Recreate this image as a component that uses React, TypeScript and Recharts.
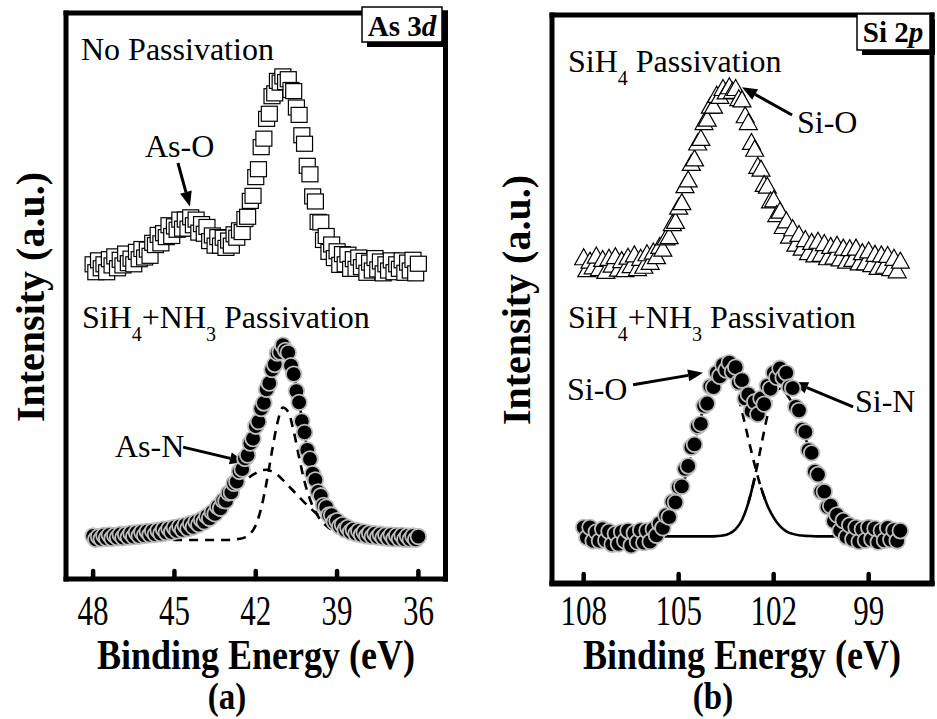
import { ComposedChart, Scatter, Line, XAxis, YAxis, ReferenceLine } from "recharts";

// ---- As 3d panel -------------------------------------------------------
const asEnergy = [
  48.0, 47.9, 47.8, 47.7, 47.6, 47.5, 47.4, 47.3, 47.2, 47.1,
  47.0, 46.9, 46.8, 46.7, 46.6, 46.5, 46.4, 46.3, 46.2, 46.1,
  46.0, 45.9, 45.8, 45.7, 45.6, 45.5, 45.4, 45.3, 45.2, 45.1,
  45.0, 44.9, 44.8, 44.7, 44.6, 44.5, 44.4, 44.3, 44.2, 44.1,
  44.0, 43.9, 43.8, 43.7, 43.6, 43.5, 43.4, 43.3, 43.2, 43.1,
  43.0, 42.9, 42.8, 42.7, 42.6, 42.5, 42.4, 42.3, 42.2, 42.1,
  42.0, 41.9, 41.8, 41.7, 41.6, 41.5, 41.4, 41.3, 41.2, 41.1,
  41.0, 40.9, 40.8, 40.7, 40.6, 40.5, 40.4, 40.3, 40.2, 40.1,
  40.0, 39.9, 39.8, 39.7, 39.6, 39.5, 39.4, 39.3, 39.2, 39.1,
  39.0, 38.9, 38.8, 38.7, 38.6, 38.5, 38.4, 38.3, 38.2, 38.1,
  38.0, 37.9, 37.8, 37.7, 37.6, 37.5, 37.4, 37.3, 37.2, 37.1,
  37.0, 36.9, 36.8, 36.7, 36.6, 36.5, 36.4, 36.3, 36.2, 36.1,
  36.0,
];

// no passivation (offset trace)
const asNoPassivation = [
  55.6, 54.2, 56.3, 54.9, 55.6, 54.2, 56.5, 55.4, 57.0, 54.9,
  56.4, 55.4, 57.5, 55.8, 56.6, 55.6, 57.8, 56.5, 58.3, 56.8,
  58.2, 57.1, 59.4, 59.0, 60.8, 59.3, 61.1, 60.4, 62.5, 60.6,
  62.3, 61.7, 63.5, 61.9, 63.5, 61.9, 63.9, 62.5, 63.5, 61.2,
  62.7, 61.0, 62.2, 59.7, 60.7, 58.9, 60.4, 58.9, 60.3, 58.5,
  59.8, 58.9, 60.9, 60.3, 61.6, 61.3, 63.6, 64.0, 66.8, 67.7,
  71.0, 72.4, 76.3, 77.8, 81.3, 82.2, 85.3, 85.8, 88.0, 87.7,
  88.8, 87.8, 88.3, 86.4, 86.2, 83.3, 82.0, 78.4, 76.9, 73.0,
  71.5, 67.6, 66.7, 63.1, 63.0, 59.9, 60.6, 57.8, 59.1, 56.7,
  57.9, 55.5, 57.4, 55.6, 57.3, 54.8, 56.5, 54.8, 56.8, 55.1,
  56.2, 54.1, 55.9, 54.5, 56.7, 54.7, 56.1, 54.0, 55.6, 54.5,
  56.3, 54.2, 55.6, 54.8, 56.3, 54.1, 55.9, 54.5, 56.4, 54.0,
  55.7,
];

// SiH4 + NH3 passivation
const asNitrided = [
  7.6, 7.0, 7.5, 7.1, 7.7, 7.2, 7.8, 7.2, 7.7, 7.3,
  7.9, 7.3, 7.9, 7.4, 8.1, 7.5, 8.2, 7.6, 8.3, 7.7,
  8.4, 7.8, 8.5, 7.9, 8.6, 8.0, 8.8, 8.2, 8.9, 8.3,
  9.1, 8.5, 9.3, 8.7, 9.5, 8.9, 9.8, 9.2, 10.1, 9.6,
  10.5, 10.1, 11.1, 10.7, 11.8, 11.5, 12.8, 12.5, 13.9, 13.8,
  15.2, 15.3, 16.9, 17.2, 19.0, 19.4, 21.3, 21.9, 24.0, 24.8,
  27.0, 27.8, 30.1, 31.1, 33.5, 34.6, 37.0, 37.9, 39.9, 40.1,
  41.3, 40.4, 40.0, 37.7, 36.2, 33.2, 31.2, 27.9, 25.9, 22.8,
  21.2, 18.6, 17.5, 15.4, 14.7, 13.0, 12.7, 11.3, 11.3, 10.1,
  10.3, 9.3, 9.6, 8.7, 9.1, 8.3, 8.7, 8.0, 8.5, 7.8,
  8.3, 7.6, 8.1, 7.5, 8.0, 7.4, 7.9, 7.3, 7.8, 7.2,
  7.8, 7.1, 7.7, 7.1, 7.7, 7.0, 7.6, 7.0, 7.6, 7.0,
  7.5,
];

const asFitEnergy = [
  48.0, 47.8, 47.6, 47.4, 47.2, 47.0, 46.8, 46.6, 46.4, 46.2,
  46.0, 45.8, 45.6, 45.4, 45.2, 45.0, 44.8, 44.6, 44.4, 44.2,
  44.0, 43.8, 43.6, 43.4, 43.2, 43.0, 42.8, 42.6, 42.4, 42.2,
  42.0, 41.8, 41.6, 41.4, 41.2, 41.0, 40.8, 40.6, 40.4, 40.2,
  40.0, 39.8, 39.6, 39.4, 39.2, 39.0, 38.8, 38.6, 38.4, 38.2,
  38.0, 37.8, 37.6, 37.4, 37.2, 37.0, 36.8, 36.6, 36.4, 36.2,
  36.0,
];

const asFitTotal = [
  7.15, 7.15, 7.15, 7.2, 7.25, 7.25, 7.3, 7.35, 7.45, 7.5,
  7.6, 7.7, 7.85, 8.0, 8.2, 8.4, 8.7, 9.0, 9.4, 9.8,
  10.3, 10.9, 11.6, 12.4, 13.4, 14.6, 16.0, 17.8, 20.0, 22.6,
  25.6, 28.9, 32.4, 35.9, 38.8, 40.5, 40.2, 36.6, 31.2, 25.6,
  20.6, 16.6, 13.7, 11.6, 10.2, 9.5, 9.1, 8.75, 8.5, 8.25,
  8.05, 7.9, 7.8, 7.65, 7.55, 7.45, 7.4, 7.35, 7.3, 7.25,
  7.2,
];

// As-Ga component
const asFitBulk = [
  6.9, 6.9, 6.9, 6.9, 6.9, 6.9, 6.9, 6.9, 6.9, 6.9,
  6.9, 6.9, 6.9, 6.9, 6.9, 6.9, 6.9, 6.9, 6.9, 6.9,
  6.9, 6.9, 6.9, 6.9, 6.9, 6.9, 7.0, 7.1, 7.35, 8.0,
  9.5, 12.5, 17.1, 22.6, 27.6, 30.3, 29.5, 26.1, 21.5, 17.2,
  14.1, 11.9, 10.4, 9.4, 8.7, 8.2, 7.85, 7.6, 7.4, 7.3,
  7.2, 7.1, 7.05, 7.0, 6.95, 6.9, 6.9, 6.9, 6.9, 6.9,
  6.9,
];

// As-N component
const asFitNitride = [
  7.1, 7.1, 7.1, 7.15, 7.2, 7.2, 7.25, 7.3, 7.4, 7.45,
  7.5, 7.6, 7.75, 7.9, 8.05, 8.25, 8.5, 8.8, 9.2, 9.6,
  10.15, 10.75, 11.5, 12.3, 13.25, 14.2, 15.25, 16.25, 17.2, 18.1,
  18.7, 19.2, 19.3, 19.0, 18.4, 17.5, 16.5, 15.5, 14.5, 13.5,
  12.6, 11.7, 11.0, 10.35, 9.8, 9.35, 8.95, 8.65, 8.4, 8.15,
  7.95, 7.8, 7.7, 7.55, 7.5, 7.4, 7.35, 7.3, 7.25, 7.2,
  7.15,
];

// ---- Si 2p panel -------------------------------------------------------
const siEnergy = [
  108.0, 107.9, 107.8, 107.7, 107.6, 107.5, 107.4, 107.3, 107.2, 107.1,
  107.0, 106.9, 106.8, 106.7, 106.6, 106.5, 106.4, 106.3, 106.2, 106.1,
  106.0, 105.9, 105.8, 105.7, 105.6, 105.5, 105.4, 105.3, 105.2, 105.1,
  105.0, 104.9, 104.8, 104.7, 104.6, 104.5, 104.4, 104.3, 104.2, 104.1,
  104.0, 103.9, 103.8, 103.7, 103.6, 103.5, 103.4, 103.3, 103.2, 103.1,
  103.0, 102.9, 102.8, 102.7, 102.6, 102.5, 102.4, 102.3, 102.2, 102.1,
  102.0, 101.9, 101.8, 101.7, 101.6, 101.5, 101.4, 101.3, 101.2, 101.1,
  101.0, 100.9, 100.8, 100.7, 100.6, 100.5, 100.4, 100.3, 100.2, 100.1,
  100.0, 99.9, 99.8, 99.7, 99.6, 99.5, 99.4, 99.3, 99.2, 99.1,
  99.0, 98.9, 98.8, 98.7, 98.6, 98.5, 98.4, 98.3, 98.2, 98.1,
  98.0,
];

// SiH4 passivation (offset trace)
const siSilane = [
  57.0, 54.9, 56.4, 55.4, 57.3, 55.1, 56.7, 54.6, 56.9, 55.7,
  57.2, 55.0, 56.5, 54.9, 57.1, 55.6, 57.5, 55.1, 56.9, 55.5,
  57.7, 56.2, 58.0, 57.2, 59.0, 58.5, 60.5, 60.7, 63.0, 63.4,
  65.9, 66.7, 69.7, 70.7, 73.6, 74.4, 77.2, 78.0, 80.8, 81.4,
  83.7, 83.7, 85.6, 85.4, 86.8, 86.2, 87.1, 86.3, 86.8, 85.0,
  84.8, 82.0, 80.8, 77.3, 76.1, 73.1, 72.6, 69.9, 69.6, 67.0,
  67.2, 64.6, 65.2, 62.5, 63.5, 60.8, 62.1, 59.4, 61.1, 58.7,
  60.2, 57.9, 59.7, 57.5, 59.9, 57.6, 59.5, 57.0, 59.0, 57.1,
  59.2, 56.8, 58.7, 56.4, 58.6, 56.7, 58.7, 56.1, 57.9, 56.1,
  58.2, 55.8, 57.6, 55.3, 57.5, 55.5, 57.4, 55.1, 56.9, 54.7,
  56.4,
];

// SiH4 + NH3 passivation
const siNitrided = [
  9.8, 8.0, 9.8, 7.4, 9.0, 7.4, 9.5, 7.5, 9.1, 6.8,
  8.7, 6.9, 9.0, 7.4, 9.2, 6.6, 8.8, 7.2, 9.3, 7.1,
  9.2, 7.3, 9.5, 8.4, 10.5, 9.7, 11.9, 11.6, 14.3, 14.2,
  16.9, 17.0, 20.1, 20.6, 23.9, 24.4, 27.6, 28.0, 31.2, 31.6,
  34.6, 34.5, 37.0, 36.4, 38.4, 37.5, 38.8, 37.2, 38.0, 35.3,
  35.7, 32.5, 33.2, 30.3, 31.9, 29.7, 32.5, 31.5, 34.7, 34.2,
  37.0, 36.2, 37.8, 36.2, 37.0, 34.5, 34.3, 31.0, 30.4, 27.0,
  26.6, 23.4, 22.9, 19.6, 19.1, 16.1, 16.1, 13.4, 13.6, 10.9,
  12.0, 9.2, 11.0, 8.1, 10.2, 7.7, 9.8, 7.3, 9.5, 7.5,
  9.8, 7.7, 9.6, 7.2, 9.2, 7.5, 9.7, 7.6, 9.3, 7.4,
  9.2,
];

const siFitEnergy = [
  108.0, 107.8, 107.6, 107.4, 107.2, 107.0, 106.8, 106.6, 106.4, 106.2,
  106.0, 105.8, 105.6, 105.4, 105.2, 105.0, 104.8, 104.6, 104.4, 104.2,
  104.0, 103.8, 103.6, 103.4, 103.2, 103.0, 102.8, 102.6, 102.4, 102.2,
  102.0, 101.8, 101.6, 101.4, 101.2, 101.0, 100.8, 100.6, 100.4, 100.2,
  100.0, 99.8, 99.6, 99.4, 99.2, 99.0, 98.8, 98.6, 98.4, 98.2,
  98.0,
];

// Si-O component
const siFitOxide = [
  8.2, 8.2, 8.2, 8.2, 8.2, 8.2, 8.2, 8.2, 8.3, 8.4,
  8.6, 9.0, 9.7, 10.9, 12.7, 15.2, 18.5, 22.5, 26.8, 31.2,
  34.8, 37.3, 38.2, 37.2, 34.3, 30.2, 25.4, 20.8, 16.8, 13.7,
  11.5, 10.0, 9.1, 8.65, 8.4, 8.3, 8.25, 8.2, 8.2, 8.2,
  8.2, 8.2, 8.2, 8.2, 8.2, 8.2, 8.2, 8.2, 8.2, 8.2,
  8.2,
];

// Si-N component
const siFitNitride = [
  8.2, 8.2, 8.2, 8.2, 8.2, 8.2, 8.2, 8.2, 8.2, 8.2,
  8.2, 8.2, 8.2, 8.2, 8.2, 8.2, 8.2, 8.2, 8.2, 8.2,
  8.2, 8.25, 8.35, 8.7, 9.5, 11.1, 14.1, 18.5, 24.0, 29.4,
  33.2, 34.2, 33.3, 31.5, 28.8, 25.6, 22.3, 19.1, 16.3, 14.0,
  12.1, 10.7, 9.8, 9.1, 8.7, 8.5, 8.35, 8.27, 8.23, 8.2,
  8.2,
];

// ---- axes ---------------------------------------------------------------
const asTicks = [48, 45, 42, 39, 36];
const siTicks = [108, 105, 102, 99];
const siMinorTicks = [106.5, 103.5, 100.5, 97.5];
const intensityTicks = [
  2, 5, 8, 11, 14, 17, 20, 23, 26, 29, 32, 35, 38, 41, 44, 47, 50,
  53, 56, 59, 62, 65, 68, 71, 74, 77, 80, 83, 86, 89, 92, 95, 98,
];

// arrow annotations, in (binding energy, intensity)
const asArrows = [
  { from: { x: 44.87, y: 73.5 }, to: { x: 44.43, y: 65.8 } },
  { from: { x: 44.68, y: 23.3 }, to: { x: 42.4, y: 20.7 } },
];
const siArrows = [
  { from: { x: 101.42, y: 82.4 }, to: { x: 103.0, y: 87.3 } },
  { from: { x: 106.44, y: 34.9 }, to: { x: 104.23, y: 37.0 } },
  { from: { x: 99.49, y: 31.0 }, to: { x: 101.39, y: 35.4 } },
];

const SERIF = '"Liberation Serif", "Times New Roman", serif';

const toPoints = (xs: number[], ys: (number | null)[]) => xs.map((e, i) => ({ e, v: ys[i] }));

// the Si 2p components are dashed where they rise above the overlap level
const splitAtLevel = (xs: number[], ys: number[], level: number) => {
  const hi = ys.map((v, i) => v > level || ys[i - 1] > level || ys[i + 1] > level);
  const lo = ys.map((v, i) => v <= level || ys[i - 1] <= level || ys[i + 1] <= level);
  return {
    dashed: toPoints(xs, ys.map((v, i) => (hi[i] ? v : null))),
    solid: toPoints(xs, ys.map((v, i) => (lo[i] ? v : null))),
  };
};

const OpenSquare = (p: any) => (
  <rect x={p.cx - 8} y={p.cy - 7.5} width={16} height={15} fill="#fff" stroke="#000" strokeWidth={1.2} />
);
const FilledCircle = (p: any) => (
  <circle cx={p.cx} cy={p.cy} r={7.8} fill="#000" stroke="#bdbdbd" strokeWidth={1.8} />
);
const OpenTriangle = (p: any) => (
  <polygon
    points={`${p.cx},${p.cy - 10.5} ${p.cx + 9},${p.cy + 5.5} ${p.cx - 9},${p.cy + 5.5}`}
    fill="#fff"
    stroke="#000"
    strokeWidth={1.2}
  />
);

const Arrow = (p: any) => {
  const { x1, y1, x2, y2 } = p;
  const a = Math.atan2(y2 - y1, x2 - x1);
  const len = 15;
  const half = 6;
  const bx = x2 - len * Math.cos(a);
  const by = y2 - len * Math.sin(a);
  const nx = -Math.sin(a) * half;
  const ny = Math.cos(a) * half;
  return (
    <g>
      <line x1={x1} y1={y1} x2={bx} y2={by} stroke="#000" strokeWidth={3} />
      <polygon points={`${x2},${y2} ${bx + nx},${by + ny} ${bx - nx},${by - ny}`} fill="#000" />
    </g>
  );
};

// tall, narrow tick numerals; y arrives as the baseline (tickMargin is set for that)
const EnergyTick = ({ x, y, payload }: any) => (
  <g transform={`translate(${x},${y}) scale(1,1.36)`}>
    <text textAnchor="middle" fontFamily={SERIF} fontSize={31} fill="#000">
      {payload.value}
    </text>
  </g>
);

const frameLine = { stroke: "#000", strokeWidth: 5, strokeLinecap: "square" as const };
const majorTick = { stroke: "#000", strokeWidth: 4.5, strokeLinecap: "round" as const };
const smallTick = { stroke: "#000", strokeWidth: 2.5, strokeLinecap: "round" as const };

// axes get a 1px band each; margins make up the rest so the frames land where they should
const AsPanel = () => {
  const top = toPoints(asEnergy, asNoPassivation);
  const bottom = toPoints(asEnergy, asNitrided);
  return (
    <ComposedChart width={475} height={719} margin={{ top: 12, right: 28.5, bottom: 139, left: 65 }}>
      <XAxis
        xAxisId="b" dataKey="e" type="number" domain={[35, 49]} reversed allowDataOverflow
        ticks={asTicks} interval={0} height={1} tickSize={-8} tickMargin={54}
        axisLine={frameLine} tickLine={majorTick} tick={EnergyTick} stroke="#000"
      />
      <XAxis
        xAxisId="t" orientation="top" type="number" domain={[35, 49]} reversed allowDataOverflow
        ticks={asTicks} interval={0} height={1} tickSize={-8} tick={false}
        axisLine={frameLine} tickLine={majorTick} stroke="#000"
      />
      <YAxis
        yAxisId="l" dataKey="v" type="number" domain={[0, 100]} allowDataOverflow
        ticks={intensityTicks} interval={0} width={1} tickSize={-4} tick={false}
        axisLine={frameLine} tickLine={smallTick} stroke="#000"
      />
      <YAxis
        yAxisId="r" orientation="right" type="number" domain={[0, 100]} allowDataOverflow
        ticks={intensityTicks} interval={0} width={1} tickSize={3} tick={false}
        axisLine={frameLine} tickLine={smallTick} stroke="#000"
      />
      <Line
        data={toPoints(asFitEnergy, asFitBulk)} dataKey="v" xAxisId="b" yAxisId="l" type="monotone"
        stroke="#000" strokeWidth={2.6} strokeDasharray="9 7" dot={false} isAnimationActive={false}
      />
      <Line
        data={toPoints(asFitEnergy, asFitNitride)} dataKey="v" xAxisId="b" yAxisId="l" type="monotone"
        stroke="#000" strokeWidth={2.6} strokeDasharray="9 7" dot={false} isAnimationActive={false}
      />
      <Line
        data={toPoints(asFitEnergy, asFitTotal)} dataKey="v" xAxisId="b" yAxisId="l" type="monotone"
        stroke="#000" strokeWidth={2.6} dot={false} isAnimationActive={false}
      />
      <Scatter data={top} dataKey="v" xAxisId="b" yAxisId="l" shape={OpenSquare} isAnimationActive={false} />
      <Scatter data={bottom} dataKey="v" xAxisId="b" yAxisId="l" shape={FilledCircle} isAnimationActive={false} />
      {asArrows.map((a, i) => (
        <ReferenceLine
          key={i} xAxisId="b" yAxisId="l" segment={[a.from, a.to]} ifOverflow="visible" shape={Arrow}
        />
      ))}
    </ComposedChart>
  );
};

const SiPanel = () => {
  const top = toPoints(siEnergy, siSilane);
  const bottom = toPoints(siEnergy, siNitrided);
  const oxide = splitAtLevel(siFitEnergy, siFitOxide, 16);
  const nitride = splitAtLevel(siFitEnergy, siFitNitride, 16);
  const lineProps = {
    dataKey: "v", xAxisId: "b", yAxisId: "l", type: "monotone" as const, stroke: "#000",
    strokeWidth: 2.6, dot: false, isAnimationActive: false,
  };
  return (
    <ComposedChart width={462} height={719} margin={{ top: 14, right: 4, bottom: 134, left: 76 }}>
      <XAxis
        xAxisId="b" dataKey="e" type="number" domain={[97, 109]} reversed allowDataOverflow
        ticks={siTicks} interval={0} height={1} tickSize={-9} tickMargin={51}
        axisLine={frameLine} tickLine={majorTick} tick={EnergyTick} stroke="#000"
      />
      <XAxis
        xAxisId="m" type="number" domain={[97, 109]} reversed allowDataOverflow
        ticks={siMinorTicks} interval={0} height={1} tickSize={-5} tick={false}
        axisLine={frameLine} tickLine={majorTick} stroke="#000"
      />
      <XAxis
        xAxisId="t" orientation="top" type="number" domain={[97, 109]} reversed allowDataOverflow
        ticks={[...siTicks, ...siMinorTicks]} interval={0} height={1} tickSize={-6} tick={false}
        axisLine={frameLine} tickLine={majorTick} stroke="#000"
      />
      <YAxis
        yAxisId="l" dataKey="v" type="number" domain={[0, 100]} allowDataOverflow
        ticks={intensityTicks} interval={0} width={1} tickSize={-4} tick={false}
        axisLine={frameLine} tickLine={smallTick} stroke="#000"
      />
      <YAxis
        yAxisId="r" orientation="right" type="number" domain={[0, 100]} allowDataOverflow
        ticks={intensityTicks} interval={0} width={1} tickSize={3} tick={false}
        axisLine={frameLine} tickLine={smallTick} stroke="#000"
      />
      <Line {...lineProps} data={oxide.dashed} strokeDasharray="9 7" />
      <Line {...lineProps} data={oxide.solid} />
      <Line {...lineProps} data={nitride.dashed} strokeDasharray="9 7" />
      <Line {...lineProps} data={nitride.solid} />
      <Scatter data={top} dataKey="v" xAxisId="b" yAxisId="l" shape={OpenTriangle} isAnimationActive={false} />
      <Scatter data={bottom} dataKey="v" xAxisId="b" yAxisId="l" shape={FilledCircle} isAnimationActive={false} />
      {siArrows.map((a, i) => (
        <ReferenceLine
          key={i} xAxisId="b" yAxisId="l" segment={[a.from, a.to]} ifOverflow="visible" shape={Arrow}
        />
      ))}
    </ComposedChart>
  );
};

const SUB_SHIFT = 13;

// bold caption text, drawn a little taller than wide
const Caption = ({ x, y, size, stretch, children }: any) => (
  <g transform={`translate(${x},${y}) scale(1,${stretch})`}>
    <text textAnchor="middle" fontSize={size} fontWeight="bold">{children}</text>
  </g>
);

const Annotations = () => (
  <svg
    width={937} height={719} fontFamily={SERIF}
    style={{ position: "absolute", left: 0, top: 0, pointerEvents: "none" }}
  >
    {/* axis titles */}
    <text x={30} y={297} transform="rotate(-90 30 297)" textAnchor="middle" dominantBaseline="central"
      fontSize={40} fontWeight="bold">Intensity (a.u.)</text>
    <text x={516} y={300} transform="rotate(-90 516 300)" textAnchor="middle" dominantBaseline="central"
      fontSize={40} fontWeight="bold">Intensity (a.u.)</text>
    <Caption x={256} y={669} size={36} stretch={1.16}>Binding Energy (eV)</Caption>
    <Caption x={742} y={669} size={36} stretch={1.16}>Binding Energy (eV)</Caption>
    <Caption x={227} y={709} size={33} stretch={1.15}>(a)</Caption>
    <Caption x={713} y={709} size={33} stretch={1.15}>(b)</Caption>

    {/* core level tags */}
    <rect x={367} y={12} width={80} height={35} fill="#000" />
    <rect x={362} y={7} width={80} height={35} fill="#fff" stroke="#000" strokeWidth={1.5} />
    <text x={402} y={36} textAnchor="middle" fontSize={29} fontWeight="bold">
      As 3<tspan fontStyle="italic">d</tspan>
    </text>
    <rect x={862} y={19} width={73} height={36} fill="#000" />
    <rect x={857} y={14} width={73} height={36} fill="#fff" stroke="#000" strokeWidth={1.5} />
    <text x={893} y={42} textAnchor="middle" fontSize={29} fontWeight="bold">
      Si 2<tspan fontStyle="italic">p</tspan>
    </text>

    {/* As 3d labels */}
    <text x={81} y={60} fontSize={32}>No Passivation</text>
    <text x={145} y={157} fontSize={32}>As-O</text>
    <text x={82} y={328} fontSize={32}>
      <tspan>SiH</tspan>
      <tspan dy={SUB_SHIFT} fontSize={20}>4</tspan>
      <tspan dy={-SUB_SHIFT}>+NH</tspan>
      <tspan dy={SUB_SHIFT} fontSize={20}>3</tspan>
      <tspan dy={-SUB_SHIFT}>{" Passivation"}</tspan>
    </text>
    <text x={115} y={457} fontSize={32}>As-N</text>

    {/* Si 2p labels */}
    <text x={568} y={72} fontSize={32}>
      <tspan>SiH</tspan>
      <tspan dy={SUB_SHIFT} fontSize={20}>4</tspan>
      <tspan dy={-SUB_SHIFT}>{" Passivation"}</tspan>
    </text>
    <text x={797} y={133} fontSize={32}>Si-O</text>
    <text x={568} y={328} fontSize={32}>
      <tspan>SiH</tspan>
      <tspan dy={SUB_SHIFT} fontSize={20}>4</tspan>
      <tspan dy={-SUB_SHIFT}>+NH</tspan>
      <tspan dy={SUB_SHIFT} fontSize={20}>3</tspan>
      <tspan dy={-SUB_SHIFT}>{" Passivation"}</tspan>
    </text>
    <text x={567} y={400} fontSize={32}>Si-O</text>
    <text x={855} y={412} fontSize={32}>Si-N</text>
  </svg>
);

export default function App() {
  return (
    <div style={{ position: "absolute", left: 0, top: 0, width: 937, height: 719, background: "#fff" }}>
      <div style={{ position: "absolute", left: 0, top: 0 }}>
        <AsPanel />
      </div>
      <div style={{ position: "absolute", left: 475, top: 0 }}>
        <SiPanel />
      </div>
      <Annotations />
    </div>
  );
}
